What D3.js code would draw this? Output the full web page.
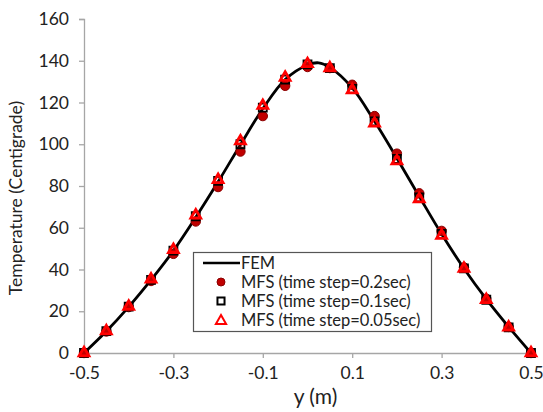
<!DOCTYPE html>
<html>
<head>
<meta charset="utf-8">
<script src="https://cdn.jsdelivr.net/npm/d3@7"></script>
<style>
  body { margin: 0; background: #fff; }
  text { font-family: Lato, "Open Sans", sans-serif; fill: #222; }
</style>
</head>
<body>
<div id="chart"></div>
<script>
// positions along y (m)
var yPos = [-0.5, -0.45, -0.4, -0.35, -0.3, -0.25, -0.2, -0.15, -0.1, -0.05, 0,
            0.05, 0.1, 0.15, 0.2, 0.25, 0.3, 0.35, 0.4, 0.45, 0.5];

// MFS results for each time step
var mfs02 = [0, 10.3, 22, 34.5, 47.5, 63, 79.5, 96.5, 113.5, 128, 137,
             136.5, 128.5, 113.5, 95.5, 76.5, 58.5, 41, 26, 12.5, 0];
var mfs01 = [0, 10.5, 22.2, 35, 49, 65.5, 82.5, 100, 117.5, 131, 138.3,
             136.5, 126.5, 111, 93, 74.5, 57, 40.5, 25.5, 12.3, 0];
var mfs005 = [0, 10.5, 22.3, 35.3, 49.5, 66, 83, 101.5, 118.5, 132, 138.5,
              136.5, 126, 110, 92, 73.8, 56.3, 40.5, 25.5, 12.3, 0];

// FEM reference curve
var femY = [-0.5, -0.45, -0.4, -0.35, -0.3, -0.25, -0.2, -0.15, -0.1, -0.05, 0,
            0.025, 0.05, 0.1, 0.15, 0.2, 0.25, 0.3, 0.35, 0.4, 0.45, 0.5];
var femT = [0, 10.4, 22.1, 35, 49, 65, 82, 99.8, 117, 131, 138,
            139, 136.8, 127, 111, 93.3, 75, 57, 40.5, 25.8, 12.5, 0];

var xTicks = [-0.5, -0.3, -0.1, 0.1, 0.3, 0.5];
var yTicks = [0, 20, 40, 60, 80, 100, 120, 140, 160];

var legendLabels = ["FEM", "MFS (time step=0.2sec)", "MFS (time step=0.1sec)", "MFS (time step=0.05sec)"];

var width = 543, height = 412;
var margin = {left: 84, right: 12, top: 19, bottom: 59};
var axisColor = "#a6a6a6";

var svg = d3.select("#chart").append("svg")
  .attr("width", width)
  .attr("height", height);

var x = d3.scaleLinear().domain([-0.5, 0.5]).range([margin.left, width - margin.right]);
var y = d3.scaleLinear().domain([0, 160]).range([height - margin.bottom, margin.top]);

// x axis
var xAxis = svg.append("g")
  .attr("transform", "translate(0," + y(0) + ")")
  .call(d3.axisBottom(x).tickValues(xTicks).tickSize(5).tickPadding(9)
    .tickFormat(function (d) { return d3.format(".1f")(d).replace("−", "-"); }));

// y axis
var yAxis = svg.append("g")
  .attr("transform", "translate(" + x(-0.5) + ",0)")
  .call(d3.axisLeft(y).tickValues(yTicks).tickSize(5).tickPadding(10));

[xAxis, yAxis].forEach(function (a) {
  a.select(".domain").attr("stroke", axisColor).attr("stroke-width", 1.3);
  a.selectAll(".tick line").attr("stroke", axisColor).attr("stroke-width", 1.3);
  a.selectAll(".tick text").style("font-size", "17.5px").attr("fill", "#222");
});

// axis titles
svg.append("text")
  .attr("x", (x(-0.5) + x(0.5)) / 2 + 8)
  .attr("y", 404)
  .attr("text-anchor", "middle")
  .style("font-size", "21px")
  .text("y (m)");

svg.append("text")
  .attr("transform", "translate(22," + 198 + ") rotate(-90)")
  .attr("text-anchor", "middle")
  .style("font-size", "17.5px")
  .text("Temperature (Centigrade)");

// FEM line
var line = d3.line()
  .x(function (d) { return x(d[0]); })
  .y(function (d) { return y(d[1]); })
  .curve(d3.curveCatmullRom);

svg.append("path")
  .datum(femY.map(function (v, i) { return [v, femT[i]]; }))
  .attr("d", line)
  .attr("fill", "none")
  .attr("stroke", "#000")
  .attr("stroke-width", 2.8);

// markers
var circleSym = d3.symbol().type(d3.symbolCircle).size(70);
var squareSym = d3.symbol().type(d3.symbolSquare).size(64);
var triSym = d3.symbol().type(d3.symbolTriangle).size(42);

function drawMarkers(vals, sym, fill, stroke, sw) {
  svg.append("g").selectAll("path")
    .data(yPos.map(function (v, i) { return [v, vals[i]]; }))
    .enter().append("path")
    .attr("d", sym)
    .attr("transform", function (d) { return "translate(" + x(d[0]) + "," + y(d[1]) + ")"; })
    .attr("fill", fill)
    .attr("stroke", stroke)
    .attr("stroke-width", sw);
}

drawMarkers(mfs02, circleSym, "#c00000", "#8b0000", 1);
drawMarkers(mfs01, squareSym, "none", "#000", 1.8);
drawMarkers(mfs005, triSym, "none", "#ff0000", 2.8);

// legend
var lg = svg.append("g");
lg.append("rect")
  .attr("x", 193.5).attr("y", 252.5)
  .attr("width", 238).attr("height", 79)
  .attr("fill", "#fff")
  .attr("stroke", "#555")
  .attr("stroke-width", 1.2);

var rowY = [263, 282, 301, 320];
lg.append("line")
  .attr("x1", 203).attr("x2", 240)
  .attr("y1", rowY[0]).attr("y2", rowY[0])
  .attr("stroke", "#000").attr("stroke-width", 2.5);
lg.append("path").attr("d", d3.symbol().type(d3.symbolCircle).size(50))
  .attr("transform", "translate(221," + rowY[1] + ")")
  .attr("fill", "#c00000").attr("stroke", "#8b0000");
lg.append("path").attr("d", d3.symbol().type(d3.symbolSquare).size(50))
  .attr("transform", "translate(221," + rowY[2] + ")")
  .attr("fill", "none").attr("stroke", "#000").attr("stroke-width", 2);
lg.append("path").attr("d", d3.symbol().type(d3.symbolTriangle).size(45))
  .attr("transform", "translate(221," + (rowY[3] + 1) + ")")
  .attr("fill", "none").attr("stroke", "#ff0000").attr("stroke-width", 2);

lg.selectAll("text.leg")
  .data(legendLabels)
  .enter().append("text")
  .attr("class", "leg")
  .attr("x", 241)
  .attr("y", function (d, i) { return rowY[i]; })
  .attr("dy", "0.35em")
  .style("font-size", "16.5px")
  .text(function (d) { return d; });
</script>
</body>
</html>
